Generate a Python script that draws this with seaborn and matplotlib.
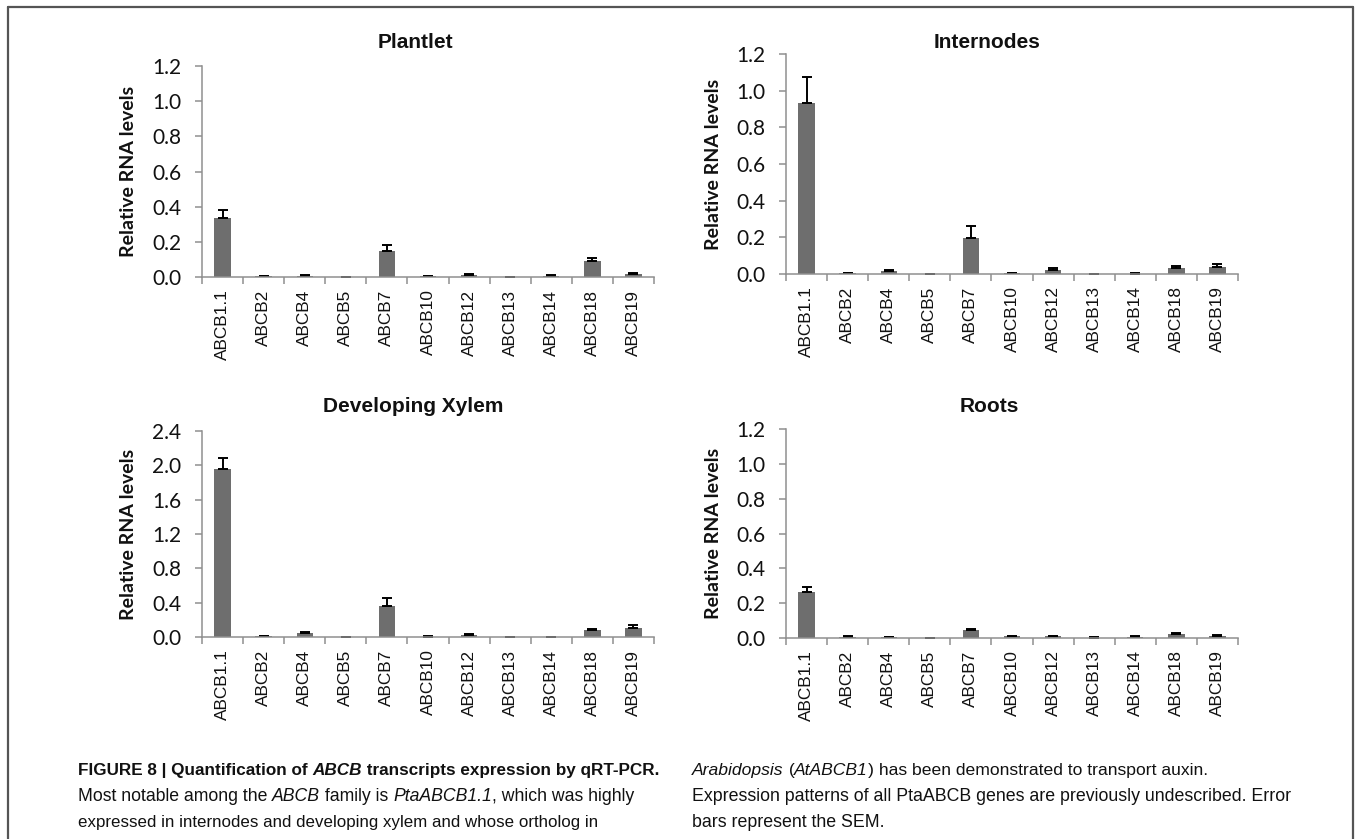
import numpy as np
import pandas as pd
import matplotlib
matplotlib.use("Agg")
import matplotlib.pyplot as plt
from matplotlib.lines import Line2D
import seaborn as sns

genes = ["ABCB1.1", "ABCB2", "ABCB4", "ABCB5", "ABCB7", "ABCB10",
         "ABCB12", "ABCB13", "ABCB14", "ABCB18", "ABCB19"]

plantlet_mean = [0.335, 0.005, 0.006, 0.001, 0.150, 0.003, 0.012, 0.001, 0.007, 0.091, 0.017]
plantlet_sem = [0.047, 0.003, 0.003, 0.001, 0.034, 0.002, 0.005, 0.001, 0.004, 0.019, 0.005]

internodes_mean = [0.935, 0.004, 0.015, 0.000, 0.198, 0.003, 0.024, 0.000, 0.002, 0.033, 0.040]
internodes_sem = [0.142, 0.002, 0.009, 0.000, 0.065, 0.002, 0.007, 0.000, 0.002, 0.009, 0.013]

xylem_mean = [1.955, 0.010, 0.046, 0.002, 0.360, 0.004, 0.023, 0.002, 0.003, 0.077, 0.105]
xylem_sem = [0.135, 0.005, 0.012, 0.001, 0.089, 0.002, 0.012, 0.001, 0.001, 0.020, 0.030]

roots_mean = [0.262, 0.008, 0.003, 0.001, 0.046, 0.009, 0.009, 0.002, 0.008, 0.021, 0.011]
roots_sem = [0.029, 0.004, 0.001, 0.001, 0.006, 0.004, 0.004, 0.001, 0.004, 0.008, 0.004]

panel_titles = ["Plantlet", "Internodes", "Developing Xylem", "Roots"]
y_label = "Relative RNA levels"

W, H = 1357, 839
sns.set_theme(style="white")
plt.rcParams["font.family"] = ["Liberation Sans", "DejaVu Sans"]

fig = plt.figure(figsize=(W / 100, H / 100), dpi=100)
fig.patch.set_facecolor("white")

BAR = "#6e6e6e"
SPINE = "#8f8f8f"


def px_rect(left, right, top, bottom):
    return [left / W, 1 - bottom / H, (right - left) / W, (bottom - top) / H]


panels = [
    (plantlet_mean, plantlet_sem, px_rect(202, 654, 66, 277), 1.2, 0.2, (415, 43)),
    (internodes_mean, internodes_sem, px_rect(786, 1238, 54, 274), 1.2, 0.2, (987, 43)),
    (xylem_mean, xylem_sem, px_rect(202, 654, 431, 637), 2.4, 0.4, (413, 407)),
    (roots_mean, roots_sem, px_rect(786, 1238, 429, 638), 1.2, 0.2, (989, 407)),
]

for (means, sems, rect, ymax, step, tpos), title in zip(panels, panel_titles):
    ax = fig.add_axes(rect)
    df = pd.DataFrame({"gene": genes, "level": means})
    sns.barplot(data=df, x="gene", y="level", color=BAR, saturation=1,
                width=0.4, errorbar=None, ax=ax, linewidth=0)
    x = np.arange(len(genes))
    ax.errorbar(x, means, yerr=[np.zeros(len(sems)), sems], fmt="none",
                ecolor="black", elinewidth=1.4, capsize=3.8, capthick=1.4)
    ax.set_xlim(-0.5, len(genes) - 0.5)
    ax.set_ylim(0, ymax)
    ticks = np.round(np.arange(0, ymax + step / 2, step), 2)
    ax.set_yticks(ticks)
    ax.set_yticklabels([f"{t:.1f}" for t in ticks], fontfamily="Lato", fontsize=15)
    ax.set_xticks(x)
    ax.set_xticklabels(genes, rotation=90, fontsize=12.4, fontfamily="Liberation Sans")
    ax.set_xticks(np.arange(len(genes) + 1) - 0.5, minor=True)
    ax.tick_params(axis="x", which="major", length=0, pad=9, colors="#111111")
    ax.tick_params(axis="x", which="minor", length=5, width=1.1, color=SPINE, direction="out", bottom=True)
    ax.tick_params(axis="y", length=5, width=1.1, color=SPINE, pad=10, direction="out",
                   left=True, labelcolor="#111111")
    ax.set_xlabel("")
    ax.set_ylabel("")
    for side in ["top", "right"]:
        ax.spines[side].set_visible(False)
    for side in ["left", "bottom"]:
        ax.spines[side].set_color(SPINE)
        ax.spines[side].set_linewidth(1.1)
    ax.set_facecolor("white")
    ax.grid(False)
    # panel title and y-axis label
    fig.text(tpos[0] / W, 1 - tpos[1] / H, title, ha="center", va="center",
             fontsize=15, fontweight="bold", family="Liberation Sans", color="#111111")
    ycenter = (rect[1] + rect[3] / 2)
    fig.text((rect[0] * W - 73) / W, ycenter, y_label, rotation=90,
             ha="center", va="center", fontsize=14, fontweight="bold",
             family="Lato", color="#111111")

# thin frame around the figure
frame_kw = dict(color="#555555", linewidth=1.6, transform=None)
fig.add_artist(Line2D([8, 1353], [H - 7, H - 7], **frame_kw))
fig.add_artist(Line2D([8, 8], [0, H - 7], **frame_kw))
fig.add_artist(Line2D([1353, 1353], [0, H - 7], **frame_kw))

# caption with mixed bold / italic runs
renderer = fig.canvas.get_renderer()


def draw_runs(x, y, runs, size):
    for text, weight, style in runs:
        t = fig.text(x / W, 1 - y / H, text, ha="left", va="baseline",
                     fontsize=size, fontweight=weight, fontstyle=style,
                     family="Liberation Sans", color="#111111")
        x += t.get_window_extent(renderer).width


N, B, I = "normal", "bold", "italic"
left_lines = [
    [("FIGURE 8 | Quantification of ", B, N), ("ABCB", B, I),
     (" transcripts expression by qRT-PCR.", B, N)],
    [("Most notable among the ", N, N), ("ABCB", N, I), (" family is ", N, N),
     ("PtaABCB1.1", N, I), (", which was highly", N, N)],
    [("expressed in internodes and developing xylem and whose ortholog in", N, N)],
]
right_lines = [
    [("Arabidopsis", N, I), (" (", N, N), ("AtABCB1", N, I),
     (") has been demonstrated to transport auxin.", N, N)],
    [("Expression patterns of all PtaABCB genes are previously undescribed. Error", N, N)],
    [("bars represent the SEM.", N, N)],
]
left_sizes = [12.3, 12.7, 12.2]
right_sizes = [12.6, 12.8, 12.8]
baselines = [775, 801, 827]
for yb, runs, s in zip(baselines, left_lines, left_sizes):
    draw_runs(78, yb, runs, s)
for yb, runs, s in zip(baselines, right_lines, right_sizes):
    draw_runs(692, yb, runs, s)

fig.savefig("out.png", dpi=100, facecolor="white")
